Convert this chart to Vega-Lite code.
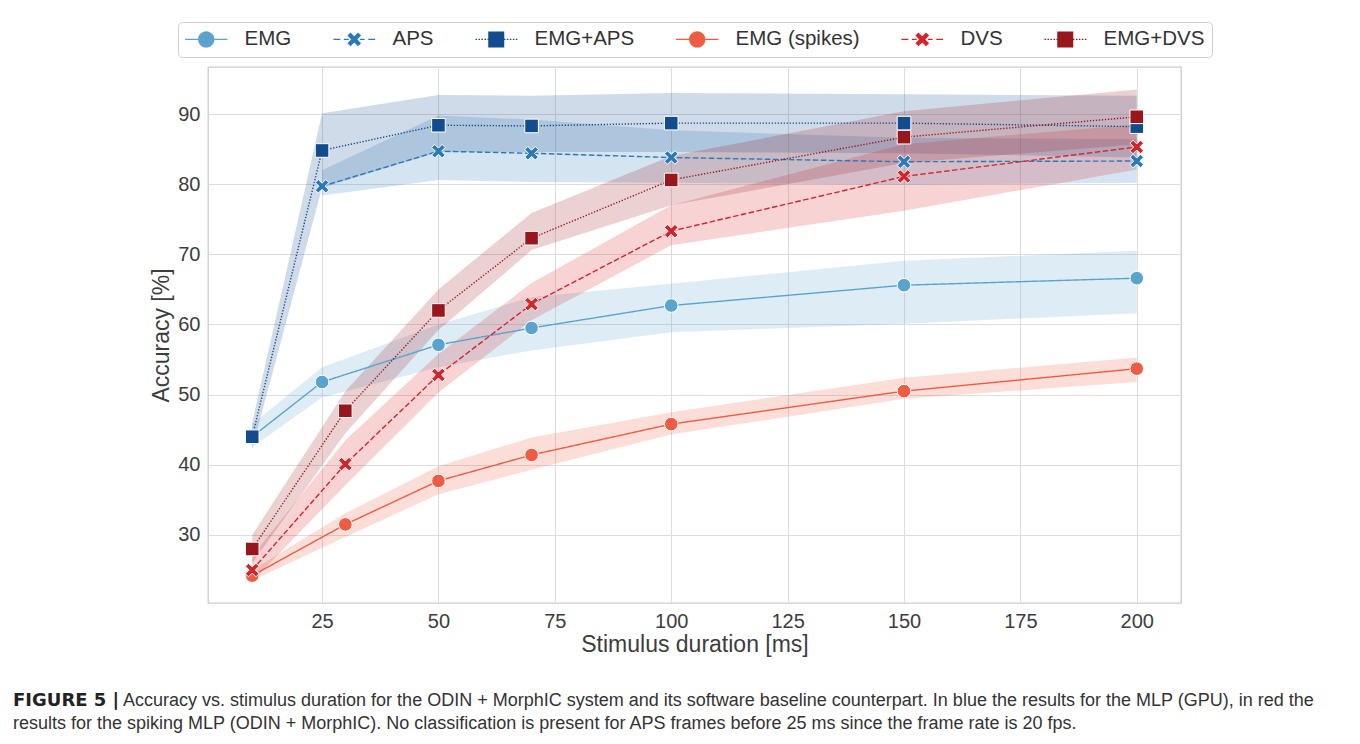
{
  "$schema": "https://vega.github.io/schema/vega-lite/v6.json",
  "autosize": "none",
  "width": 973,
  "height": 536,
  "padding": {"left": 208, "top": 67, "right": 179, "bottom": 141},
  "background": "white",
  "config": {
    "font": "Liberation Sans",
    "view": {"stroke": "#cccccc", "strokeWidth": 1.3},
    "axis": {
      "grid": true, "gridColor": "#dddddd", "gridWidth": 1,
      "domain": false, "ticks": false,
      "labelFontSize": 20, "labelColor": "#3d3d3d",
      "titleFontSize": 23, "titleColor": "#3d3d3d", "titleFontWeight": "normal"
    }
  },
  "title": {
    "text": "FIGURE 5 |",
    "subtitle": [
      "\u200b\u00a0\u00a0\u00a0\u00a0\u00a0\u00a0\u00a0\u00a0\u00a0\u00a0\u00a0\u00a0\u00a0\u00a0\u00a0\u00a0\u00a0\u00a0\u00a0\u00a0\u00a0\u00a0Accuracy vs. stimulus duration for the ODIN + MorphIC system and its software baseline counterpart. In blue the results for the MLP (GPU), in red the",
      "results for the spiking MLP (ODIN + MorphIC). No classification is present for APS frames before 25 ms since the frame rate is 20 fps."
    ],
    "orient": "bottom",
    "anchor": "start",
    "frame": "group",
    "dx": -195,
    "offset": 36,
    "font": "DejaVu Sans",
    "fontSize": 18,
    "fontWeight": "bold",
    "color": "#222222",
    "subtitleFont": "Liberation Sans",
    "subtitleFontSize": 18,
    "subtitleColor": "#333333",
    "subtitleLineHeight": 23,
    "subtitlePadding": -18
  },
  "data": {
    "values": [
      {"series": "EMG", "x": 10, "y": 44.0, "lo": 42.5, "hi": 45.8},
      {"series": "EMG", "x": 25, "y": 51.8, "lo": 49.6, "hi": 53.9},
      {"series": "EMG", "x": 50, "y": 57.1, "lo": 53.9, "hi": 60.0},
      {"series": "EMG", "x": 70, "y": 59.5, "lo": 56.3, "hi": 63.9},
      {"series": "EMG", "x": 100, "y": 62.7, "lo": 58.9, "hi": 65.8},
      {"series": "EMG", "x": 150, "y": 65.6, "lo": 60.1, "hi": 69.1},
      {"series": "EMG", "x": 200, "y": 66.6, "lo": 61.6, "hi": 70.5},
      {"series": "APS", "x": 25, "y": 79.7, "lo": 78.4, "hi": 82.0},
      {"series": "APS", "x": 50, "y": 84.7, "lo": 80.6, "hi": 89.8},
      {"series": "APS", "x": 70, "y": 84.4, "lo": 80.3, "hi": 89.2},
      {"series": "APS", "x": 100, "y": 83.8, "lo": 80.2, "hi": 87.7},
      {"series": "APS", "x": 150, "y": 83.2, "lo": 79.9, "hi": 86.6},
      {"series": "APS", "x": 200, "y": 83.3, "lo": 80.2, "hi": 86.4},
      {"series": "EMG+APS", "x": 10, "y": 44.0, "lo": 42.3, "hi": 46.0},
      {"series": "EMG+APS", "x": 25, "y": 84.8, "lo": 79.5, "hi": 90.1},
      {"series": "EMG+APS", "x": 50, "y": 88.4, "lo": 84.6, "hi": 92.7},
      {"series": "EMG+APS", "x": 70, "y": 88.3, "lo": 84.6, "hi": 92.6},
      {"series": "EMG+APS", "x": 100, "y": 88.7, "lo": 84.6, "hi": 93.0},
      {"series": "EMG+APS", "x": 150, "y": 88.7, "lo": 84.4, "hi": 92.8},
      {"series": "EMG+APS", "x": 200, "y": 88.2, "lo": 83.8, "hi": 92.6},
      {"series": "EMG (spikes)", "x": 10, "y": 24.2, "lo": 23.5, "hi": 25.0},
      {"series": "EMG (spikes)", "x": 30, "y": 31.5, "lo": 29.7, "hi": 33.1},
      {"series": "EMG (spikes)", "x": 50, "y": 37.7, "lo": 35.8, "hi": 39.8},
      {"series": "EMG (spikes)", "x": 70, "y": 41.4, "lo": 39.3, "hi": 43.9},
      {"series": "EMG (spikes)", "x": 100, "y": 45.8, "lo": 44.3, "hi": 47.5},
      {"series": "EMG (spikes)", "x": 150, "y": 50.5, "lo": 49.4, "hi": 52.4},
      {"series": "EMG (spikes)", "x": 200, "y": 53.7, "lo": 51.8, "hi": 55.3},
      {"series": "DVS", "x": 10, "y": 25.0, "lo": 23.4, "hi": 27.0},
      {"series": "DVS", "x": 30, "y": 40.1, "lo": 37.1, "hi": 43.5},
      {"series": "DVS", "x": 50, "y": 52.8, "lo": 50.3, "hi": 55.8},
      {"series": "DVS", "x": 70, "y": 62.9, "lo": 60.6, "hi": 65.9},
      {"series": "DVS", "x": 100, "y": 73.3, "lo": 71.3, "hi": 77.0},
      {"series": "DVS", "x": 150, "y": 81.1, "lo": 76.2, "hi": 85.7},
      {"series": "DVS", "x": 200, "y": 85.3, "lo": 82.1, "hi": 88.5},
      {"series": "EMG+DVS", "x": 10, "y": 28.0, "lo": 26.0, "hi": 30.0},
      {"series": "EMG+DVS", "x": 30, "y": 47.7, "lo": 44.5, "hi": 50.5},
      {"series": "EMG+DVS", "x": 50, "y": 62.0, "lo": 59.2, "hi": 65.0},
      {"series": "EMG+DVS", "x": 70, "y": 72.3, "lo": 70.6, "hi": 75.9},
      {"series": "EMG+DVS", "x": 100, "y": 80.6, "lo": 77.0, "hi": 84.0},
      {"series": "EMG+DVS", "x": 150, "y": 86.7, "lo": 83.0, "hi": 90.4},
      {"series": "EMG+DVS", "x": 200, "y": 89.6, "lo": 85.7, "hi": 93.5}
    ]
  },
  "encoding": {
    "x": {
      "field": "x", "type": "quantitative",
      "scale": {"domain": [0.5, 209.5], "nice": false, "zero": false},
      "axis": {"values": [25, 50, 75, 100, 125, 150, 175, 200], "title": "Stimulus duration [ms]", "labelPadding": 8, "titlePadding": 2}
    },
    "y": {
      "field": "y", "type": "quantitative",
      "scale": {"domain": [20.3, 96.7], "nice": false, "zero": false},
      "axis": {"values": [30, 40, 50, 60, 70, 80, 90], "title": "Accuracy [%]", "labelPadding": 8, "titlePadding": 4}
    }
  },
  "layer": [
    {
      "mark": {"type": "area", "opacity": 0.2},
      "encoding": {
        "y": {"field": "lo", "type": "quantitative"},
        "y2": {"field": "hi"},
        "color": {
          "field": "series", "type": "nominal", "legend": null,
          "scale": {"domain": ["EMG", "APS", "EMG+APS", "EMG (spikes)", "DVS", "EMG+DVS"], "range": ["#5ba3cf", "#2a7ab9", "#134b8f", "#f05c42", "#d62329", "#99171c"]}
        }
      }
    },
    {
      "mark": {"type": "line", "strokeWidth": 1.4},
      "encoding": {
        "color": {
          "field": "series", "type": "nominal", "legend": null,
          "scale": {"domain": ["EMG", "APS", "EMG+APS", "EMG (spikes)", "DVS", "EMG+DVS"], "range": ["#5ba3cf", "#2a7ab9", "#134b8f", "#f05c42", "#d62329", "#99171c"]}
        },
        "strokeDash": {
          "field": "series", "type": "nominal", "legend": null,
          "scale": {"domain": ["EMG", "APS", "EMG+APS", "EMG (spikes)", "DVS", "EMG+DVS"], "range": [[1, 0], [5.5, 2.5], [1.3, 1.7], [1, 0], [5.5, 2.5], [1.3, 1.7]]}
        }
      }
    },
    {
      "mark": {"type": "point", "filled": true, "opacity": 1, "stroke": "white", "strokeWidth": 1, "size": 185},
      "encoding": {
        "color": {
          "field": "series", "type": "nominal", "legend": null,
          "scale": {"domain": ["EMG", "APS", "EMG+APS", "EMG (spikes)", "DVS", "EMG+DVS"], "range": ["#5ba3cf", "#2a7ab9", "#134b8f", "#f05c42", "#d62329", "#99171c"]}
        },
        "shape": {
          "field": "series", "type": "nominal", "legend": null,
          "scale": {"domain": ["EMG", "APS", "EMG+APS", "EMG (spikes)", "DVS", "EMG+DVS"], "range": [
            "circle",
            "M0.548,-1L1,-0.548L0.451,0L1,0.548L0.548,1L0,0.451L-0.548,1L-1,0.548L-0.451,0L-1,-0.548L-0.548,-1L0,-0.451Z",
            "square",
            "circle",
            "M0.548,-1L1,-0.548L0.451,0L1,0.548L0.548,1L0,0.451L-0.548,1L-1,0.548L-0.451,0L-1,-0.548L-0.548,-1L0,-0.451Z",
            "square"
          ]}
        }
      }
    },
    {
      "transform": [{"filter": "datum.x < 0"}],
      "mark": {"type": "point", "filled": true, "opacity": 1},
      "encoding": {
        "color": {
          "field": "series", "type": "nominal",
          "scale": {"domain": ["EMG", "APS", "EMG+APS", "EMG (spikes)", "DVS", "EMG+DVS"], "range": ["#5ba3cf", "#2a7ab9", "#134b8f", "#f05c42", "#d62329", "#99171c"]},
          "legend": {
            "title": null, "orient": "none", "legendX": -30, "legendY": -45,
            "direction": "horizontal", "columns": 6,
            "fillColor": "white", "strokeColor": "#d0d0d0", "cornerRadius": 4, "padding": 7,
            "labelFontSize": 20.5, "labelColor": "#333333", "labelOffset": 28,
            "symbolSize": 256, "symbolStrokeWidth": 0, "symbolOffset": 11, "columnPadding": 41, "symbolOpacity": 1
          }
        },
        "shape": {
          "field": "series", "type": "nominal",
          "scale": {"domain": ["EMG", "APS", "EMG+APS", "EMG (spikes)", "DVS", "EMG+DVS"], "range": [
            "M-2.65,-0.085H-0.9V0.085H-2.65Z M0.9,-0.085H2.65V0.085H0.9Z M1.02,0A1.02,1.02 0 1,1 -1.02,0A1.02,1.02 0 1,1 1.02,0Z",
            "M-2.6,-0.085H-1.75V0.085H-2.6Z M-1.3,-0.085H-0.7V0.085H-1.3Z M0.7,-0.085H1.3V0.085H0.7Z M1.75,-0.085H2.6V0.085H1.75Z M0.469,-0.855L0.855,-0.469L0.386,0L0.855,0.469L0.469,0.855L0,0.386L-0.469,0.855L-0.855,0.469L-0.386,0L-0.855,-0.469L-0.469,-0.855L0,-0.386Z",
            "M-2.6,-0.085H-2.41V0.085H-2.6Z M-2.225,-0.085H-2.035V0.085H-2.225Z M-1.85,-0.085H-1.66V0.085H-1.85Z M-1.475,-0.085H-1.285V0.085H-1.475Z M-1.1,-0.085H-1.0V0.085H-1.1Z M1.0,-0.085H1.14V0.085H1.0Z M1.325,-0.085H1.515V0.085H1.325Z M1.7,-0.085H1.89V0.085H1.7Z M2.075,-0.085H2.265V0.085H2.075Z M2.45,-0.085H2.64V0.085H2.45Z M-1,-1H1V1H-1Z",
            "M-2.65,-0.085H-0.9V0.085H-2.65Z M0.9,-0.085H2.65V0.085H0.9Z M1.02,0A1.02,1.02 0 1,1 -1.02,0A1.02,1.02 0 1,1 1.02,0Z",
            "M-2.6,-0.085H-1.75V0.085H-2.6Z M-1.3,-0.085H-0.7V0.085H-1.3Z M0.7,-0.085H1.3V0.085H0.7Z M1.75,-0.085H2.6V0.085H1.75Z M0.469,-0.855L0.855,-0.469L0.386,0L0.855,0.469L0.469,0.855L0,0.386L-0.469,0.855L-0.855,0.469L-0.386,0L-0.855,-0.469L-0.469,-0.855L0,-0.386Z",
            "M-2.6,-0.085H-2.41V0.085H-2.6Z M-2.225,-0.085H-2.035V0.085H-2.225Z M-1.85,-0.085H-1.66V0.085H-1.85Z M-1.475,-0.085H-1.285V0.085H-1.475Z M-1.1,-0.085H-1.0V0.085H-1.1Z M1.0,-0.085H1.14V0.085H1.0Z M1.325,-0.085H1.515V0.085H1.325Z M1.7,-0.085H1.89V0.085H1.7Z M2.075,-0.085H2.265V0.085H2.075Z M2.45,-0.085H2.64V0.085H2.45Z M-1,-1H1V1H-1Z"
          ]}
        }
      }
    }
  ],
  "resolve": {"scale": {"color": "independent", "shape": "independent", "strokeDash": "independent"}}
}
